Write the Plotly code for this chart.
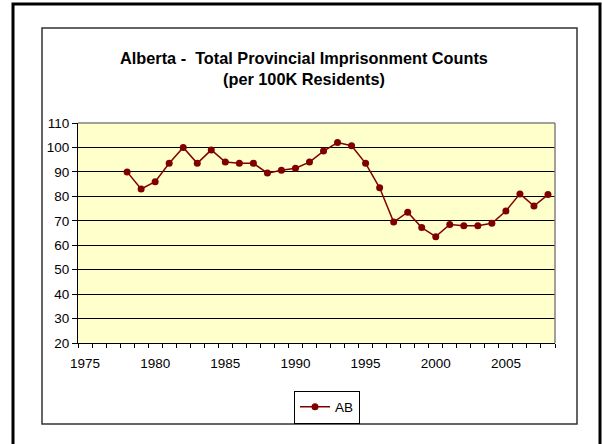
import plotly.graph_objects as go

years = list(range(1978, 2009))
ab_counts = [90, 83, 86, 93.5, 100, 93.5, 99, 94, 93.5, 93.5, 89.5, 90.7, 91.5, 94,
             98.5, 102, 100.7, 93.5, 83.5, 69.5, 73.5, 67.2, 63.5, 68.5, 68, 68, 69,
             74, 81, 76, 80.7]
series_name = "AB"
title_text = "Alberta -  Total Provincial Imprisonment Counts<br>(per 100K Residents)"

W, H = 602, 444
L, R, T, B = 78, 555, 123, 343


def px(x):
    return (x - L) / (R - L)


def py(y):
    return (B - y) / (B - T)


fig = go.Figure()
fig.add_trace(go.Scatter(
    x=years, y=ab_counts, mode="lines+markers", name=series_name,
    line=dict(color="#800000", width=1.5),
    marker=dict(color="#800000", size=7, symbol="circle"),
))

font_family = "Liberation Sans, Arial, sans-serif"

fig.update_layout(
    width=W, height=H,
    margin=dict(l=L, r=W - R, t=T, b=H - B, pad=0),
    paper_bgcolor="white",
    plot_bgcolor="#FFFFCC",
    font=dict(family=font_family, size=13.5, color="black"),
    title=dict(text="<b>" + title_text + "</b>", x=px(304), xref="paper",
               xanchor="center", y=1 - 64 / H, yref="container", yanchor="middle",
               font=dict(size=16.3, family=font_family, color="black")),
    showlegend=True,
    legend=dict(orientation="h", x=px(327), xanchor="center", y=py(407), yanchor="middle",
                bordercolor="black", borderwidth=1, bgcolor="white",
                font=dict(size=13.5, family=font_family), itemwidth=30),
    xaxis=dict(range=[1974.5, 2008.5], tickmode="linear", tick0=1975, dtick=5,
               ticks="", showgrid=False, zeroline=False, showline=True,
               linecolor="black", linewidth=1,
               minor=dict(ticks="outside", tick0=1974.5, dtick=1, ticklen=4,
                          tickcolor="black", showgrid=False),
               tickfont=dict(size=13.5), ticklabelstandoff=8),
    yaxis=dict(range=[20, 110], tickmode="linear", tick0=20, dtick=10,
               ticks="outside", ticklen=5, tickcolor="black",
               showgrid=True, gridcolor="black", gridwidth=1, zeroline=False,
               showline=True, linecolor="black", linewidth=1,
               tickfont=dict(size=13.5)),
    shapes=[
        dict(type="rect", xref="paper", yref="paper", x0=px(13), x1=px(600),
             y0=py(447), y1=py(4), line=dict(color="black", width=3)),
        dict(type="rect", xref="paper", yref="paper", x0=px(42), x1=px(577),
             y0=py(424), y1=py(28), line=dict(color="#333333", width=1.5)),
        dict(type="line", xref="paper", yref="paper", x0=0, x1=1, y0=1, y1=1,
             line=dict(color="#808080", width=1.5)),
        dict(type="line", xref="paper", yref="paper", x0=1, x1=1, y0=0, y1=1,
             line=dict(color="#808080", width=1.5)),
    ],
)

fig.write_html("out.html", config={"displayModeBar": False},
               post_script="document.body.style.margin='0';")
